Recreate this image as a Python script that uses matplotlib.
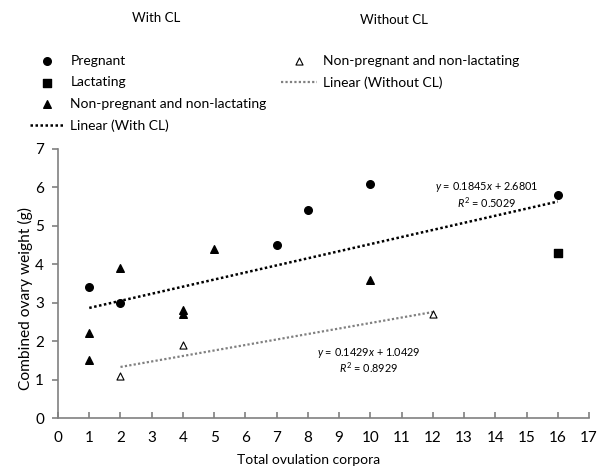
import numpy as np
import matplotlib
matplotlib.use("Agg")
import matplotlib.pyplot as plt

plt.rcParams["font.family"] = ["Lato", "DejaVu Sans"]
plt.rcParams["mathtext.fontset"] = "custom"
plt.rcParams["mathtext.rm"] = "Lato"
plt.rcParams["mathtext.it"] = "Lato:italic"

# With CL
preg_x = [1, 2, 7, 8, 10, 16]
preg_y = [3.4, 3.0, 4.5, 5.4, 6.1, 5.8]
lact_x = [16]
lact_y = [4.3]
npnl_x = [1, 1, 2, 4, 4, 5, 10]
npnl_y = [2.2, 1.5, 3.9, 2.8, 2.7, 4.4, 3.6]
# Without CL
wo_x = [2, 4, 12]
wo_y = [1.1, 1.9, 2.7]

# trendline coefficients (slope, intercept) and R^2
with_fit = [0.1845, 2.6801]
with_r2 = 0.5029
wo_fit = [0.1429, 1.0429]
wo_r2 = 0.8929

fig = plt.figure(figsize=(6, 4.74), dpi=100)
ax = fig.add_axes([0.0967, 0.1181, 0.885, 0.5676])

h1 = ax.scatter(preg_x, preg_y, marker="o", s=30, color="black", zorder=3)
h2 = ax.scatter(lact_x, lact_y, marker="s", s=28, color="black", zorder=3)
h3 = ax.scatter(npnl_x, npnl_y, marker="^", s=30, color="black", zorder=3)
h4 = ax.scatter(wo_x, wo_y, marker="^", s=26, facecolor="white", edgecolor="black",
                linewidth=0.8, zorder=3)

xw = np.array([min(preg_x + npnl_x + lact_x), max(preg_x + npnl_x + lact_x)])
l1, = ax.plot(xw, with_fit[0] * xw + with_fit[1], color="black", ls=(0, (1, 1)), lw=1.8)
xo = np.array([min(wo_x), max(wo_x)])
l2, = ax.plot(xo, wo_fit[0] * xo + wo_fit[1], color="#808080", ls=(0, (1, 1)), lw=1.6)

ax.text(13.73, 6.0, r"$y$ = %.4f$x$ + %.4f" % tuple(with_fit), ha="center", va="center", fontsize=7.8)
ax.text(13.73, 5.6, r"$R^2$ = %.4f" % with_r2, ha="center", va="center", fontsize=7.8)
ax.text(9.96, 1.69, r"$y$ = %.4f$x$ + %.4f" % tuple(wo_fit), ha="center", va="center", fontsize=7.8)
ax.text(9.96, 1.30, r"$R^2$ = %.4f" % wo_r2, ha="center", va="center", fontsize=7.8)

ax.set_xlim(0, 17)
ax.set_ylim(0, 7)
ax.set_xticks(range(0, 18))
ax.set_yticks(range(0, 8))
for s in ["top", "right"]:
    ax.spines[s].set_visible(False)
for s in ["left", "bottom"]:
    ax.spines[s].set_color("#808080")
    ax.spines[s].set_linewidth(1.2)
ax.tick_params(axis="x", direction="in", length=4, color="#808080", width=1.2, labelsize=11, pad=9)
ax.tick_params(axis="y", direction="out", length=4, color="#808080", width=1.2, labelsize=11, pad=6)
ax.set_xlabel("Total ovulation corpora", fontsize=10)
ax.set_ylabel("Combined ovary weight (g)", fontsize=11.2)
ax.xaxis.set_label_coords(0.471, -0.134)
ax.yaxis.set_label_coords(-0.048, 0.446)

fig.text(156 / 600, 1 - 18 / 474, "With CL", ha="center", va="center", fontsize=9.5)
fig.text(394 / 600, 1 - 20 / 474, "Without CL", ha="center", va="center", fontsize=9.5)

fig.legend([h1, h2, h3, l1], ["Pregnant", "Lactating", "Non-pregnant and non-lactating", "Linear (With CL)"],
           loc="upper left", bbox_to_anchor=(30 / 600, 1 - 55 / 474), frameon=False, fontsize=10,
           handlelength=2.5, handletextpad=0.4, labelspacing=0.68, borderpad=0, borderaxespad=0)
fig.legend([h4, l2], ["Non-pregnant and non-lactating", "Linear (Without CL)"],
           loc="upper left", bbox_to_anchor=(281 / 600, 1 - 55 / 474), frameon=False, fontsize=10,
           handlelength=2.6, handletextpad=0.4, labelspacing=0.68, borderpad=0, borderaxespad=0)

fig.savefig("out.png", dpi=100)
